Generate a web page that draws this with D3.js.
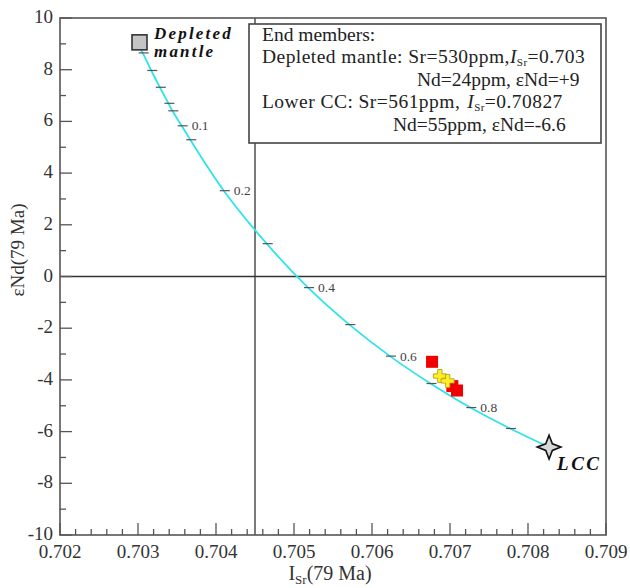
<!DOCTYPE html>
<html>
<head>
<meta charset="utf-8">
<script src="https://cdn.jsdelivr.net/npm/d3@7"></script>
<style>
  body { margin: 0; background: #fff; }
  svg text { font-family: "Liberation Serif", "Times New Roman", serif; }
</style>
</head>
<body>
<div id="chart"></div>
<script>
// axis ticks
const xTicks = [0.702, 0.703, 0.704, 0.705, 0.706, 0.707, 0.708, 0.709];
const yTicks = [-10, -8, -6, -4, -2, 0, 2, 4, 6, 8, 10];

// mixing curve DM -> LCC, read at the marked fractions
const mixF   = [0, 0.01, 0.03, 0.05, 0.07, 0.08, 0.1, 0.12, 0.2, 0.3, 0.4, 0.5, 0.6, 0.7, 0.8, 0.9, 1];
const mixIsr = [0.70300, 0.70306, 0.70317, 0.70328, 0.70339, 0.70344, 0.70356, 0.70367, 0.70410,
                0.70465, 0.70518, 0.70571, 0.70623, 0.70675, 0.70726, 0.70777, 0.70827];
const mixEnd = [9.0, 8.65, 7.97, 7.32, 6.70, 6.41, 5.83, 5.29, 3.32, 1.27, -0.43, -1.86, -3.08, -4.14, -5.07, -5.88, -6.6];
const markedF  = ["0.1", "0.2", "0.4", "0.6", "0.8"];

// samples
const sampleIsr = [0.70677, 0.70703, 0.70709];
const sampleEnd = [-3.30, -4.24, -4.41];
const crossIsr = [0.70687, 0.70697];
const crossEnd = [-3.85, -4.04];

// end members
const dmPoint = [0.703, 9];
const lccPoint = [0.70827, -6.6];

const refIsr = 0.7045, refEnd = 0;

const W = 630, H = 588;
const margin = { top: 18, right: 24, bottom: 53, left: 60 };

const svg = d3.select("#chart").append("svg")
    .attr("width", W)
    .attr("height", H);

const x = d3.scaleLinear().domain([0.702, 0.709]).range([margin.left, W - margin.right]);
const y = d3.scaleLinear().domain([-10, 10]).range([H - margin.bottom, margin.top]);

const frame = "#555";

// reference lines
svg.append("line")
    .attr("x1", x(refIsr)).attr("x2", x(refIsr))
    .attr("y1", y(10)).attr("y2", y(-10))
    .attr("stroke", "#333").attr("stroke-width", 1.3);
svg.append("line")
    .attr("x1", x(0.702)).attr("x2", x(0.709))
    .attr("y1", y(refEnd)).attr("y2", y(refEnd))
    .attr("stroke", "#333").attr("stroke-width", 1.3);

// frame
svg.append("rect")
    .attr("x", x(0.702)).attr("y", y(10))
    .attr("width", x(0.709) - x(0.702)).attr("height", y(-10) - y(10))
    .attr("fill", "none").attr("stroke", frame).attr("stroke-width", 1.6);

// x axis ticks (inward)
const xMinor = d3.range(0, 36).map(i => 0.702 + i * 0.0002);
svg.append("g").selectAll("line").data(xMinor).join("line")
    .attr("x1", d => x(d)).attr("x2", d => x(d))
    .attr("y1", y(-10)).attr("y2", (d, i) => y(-10) - (i % 5 === 0 ? 12 : 6))
    .attr("stroke", frame).attr("stroke-width", 1.3);
svg.append("g").selectAll("text").data(xTicks).join("text")
    .attr("x", d => x(d)).attr("y", y(-10) + 23)
    .attr("text-anchor", "middle")
    .attr("font-size", 19).attr("fill", "#333")
    .text(d => d3.format(".3f")(d));

// y axis ticks
const yMinor = d3.range(-10, 11, 1);
svg.append("g").selectAll("line").data(yMinor).join("line")
    .attr("x1", x(0.702)).attr("x2", (d) => x(0.702) + (d % 2 === 0 ? 12 : 6))
    .attr("y1", d => y(d)).attr("y2", d => y(d))
    .attr("stroke", frame).attr("stroke-width", 1.3);
svg.append("g").selectAll("text").data(yTicks).join("text")
    .attr("x", x(0.702) - 7).attr("y", d => y(d) + 5)
    .attr("text-anchor", "end")
    .attr("font-size", 19).attr("fill", "#333")
    .text(d => d);

// axis titles
const xt = svg.append("text")
    .attr("x", 330).attr("y", 580)
    .attr("text-anchor", "middle")
    .attr("font-size", 20).attr("fill", "#333");
xt.append("tspan").text("I");
xt.append("tspan").attr("font-size", 13).attr("dy", 4).text("Sr");
xt.append("tspan").attr("dy", -4).text("(79 Ma)");

svg.append("text")
    .attr("transform", "translate(24,250) rotate(-90)")
    .attr("text-anchor", "middle")
    .attr("font-size", 19).attr("fill", "#333")
    .text("εNd(79 Ma)");

// mixing curve
const pts = mixF.map((f, i) => [mixIsr[i], mixEnd[i], f]);
const line = d3.line()
    .x(d => x(d[0])).y(d => y(d[1]))
    .curve(d3.curveCatmullRom);
svg.append("path")
    .datum(pts)
    .attr("d", line)
    .attr("fill", "none")
    .attr("stroke", "#2fe3ea")
    .attr("stroke-width", 1.8);

// fraction marks
const marks = pts.filter(d => d[2] > 0 && d[2] < 1);
svg.append("g").selectAll("line").data(marks).join("line")
    .attr("x1", d => x(d[0]) - 4).attr("x2", d => x(d[0]) + 6)
    .attr("y1", d => y(d[1])).attr("y2", d => y(d[1]))
    .attr("stroke", "#555").attr("stroke-width", 1.2);
svg.append("g").selectAll("text").data(marks.filter(d => markedF.includes(String(d[2])))).join("text")
    .attr("x", d => x(d[0]) + 10).attr("y", d => y(d[1]) + 4.5)
    .attr("font-size", 13.5).attr("fill", "#444")
    .text(d => String(d[2]));

// depleted mantle end member
svg.append("rect")
    .attr("x", x(dmPoint[0]) - 6).attr("y", y(dmPoint[1]) - 9)
    .attr("width", 15).attr("height", 15)
    .attr("fill", "#c4c4c4").attr("stroke", "#333").attr("stroke-width", 1.6);
const dmLab = svg.append("text")
    .attr("font-family", "DejaVu Serif")
    .attr("font-weight", "bold").attr("font-style", "italic")
    .attr("font-size", 17).attr("letter-spacing", 2.2).attr("fill", "#111");
dmLab.append("tspan").attr("x", 154).attr("y", 39).text("Depleted");
dmLab.append("tspan").attr("x", 154).attr("y", 57).text("mantle");

// LCC end member (4-point star)
const star = d3.symbol().type({
    draw(ctx, size) {
        const r = Math.sqrt(size) / 2, q = r * 0.28;
        ctx.moveTo(0, -r);
        ctx.lineTo(q, -q); ctx.lineTo(r, 0); ctx.lineTo(q, q);
        ctx.lineTo(0, r); ctx.lineTo(-q, q); ctx.lineTo(-r, 0); ctx.lineTo(-q, -q);
        ctx.closePath();
    }
}).size(560);
svg.append("path")
    .attr("d", star)
    .attr("transform", `translate(${x(lccPoint[0])},${y(lccPoint[1])})`)
    .attr("fill", "#d8d8d8").attr("stroke", "#111").attr("stroke-width", 1.6);
svg.append("text")
    .attr("x", x(lccPoint[0]) + 8).attr("y", y(lccPoint[1]) + 23)
    .attr("font-family", "DejaVu Serif")
    .attr("font-weight", "bold").attr("font-style", "italic")
    .attr("font-size", 19).attr("letter-spacing", 2.5).attr("fill", "#111")
    .text("LCC");

// samples
svg.append("g").selectAll("rect").data(sampleIsr).join("rect")
    .attr("x", (d) => x(d) - 6).attr("y", (d, i) => y(sampleEnd[i]) - 6)
    .attr("width", 12).attr("height", 12)
    .attr("fill", "#f00000");
svg.append("g").selectAll("path").data(crossIsr).join("path")
    .attr("d", d3.symbol().type(d3.symbolCross).size(95))
    .attr("transform", (d, i) => `translate(${x(d)},${y(crossEnd[i])})`)
    .attr("fill", "#ffee22").attr("stroke", "#a89a20").attr("stroke-width", 0.8);

// end member box
svg.append("rect")
    .attr("x", 249).attr("y", 24).attr("width", 352).attr("height", 119)
    .attr("fill", "#fff").attr("stroke", "#444").attr("stroke-width", 1.6);
const box = svg.append("g").attr("font-size", 19.5).attr("fill", "#222");
box.append("text").attr("x", 262).attr("y", 41).text("End members:");
const l2 = box.append("text").attr("x", 262).attr("y", 63).attr("letter-spacing", 0.45);
l2.append("tspan").text("Depleted mantle: Sr=530ppm,");
l2.append("tspan").attr("font-style", "italic").text("I");
l2.append("tspan").attr("font-size", 11).attr("dy", 3).text("Sr");
l2.append("tspan").attr("dy", -3).text("=0.703");
box.append("text").attr("x", 417).attr("y", 86)
    .text("Nd=24ppm, εNd=+9");
const l4 = box.append("text").attr("x", 262).attr("y", 108).attr("letter-spacing", 0.45);
l4.append("tspan").text("Lower CC: Sr=561ppm,");
l4.append("tspan").attr("dx", 7).attr("font-style", "italic").text("I");
l4.append("tspan").attr("font-size", 11).attr("dy", 3).text("Sr");
l4.append("tspan").attr("dy", -3).text("=0.70827");
box.append("text").attr("x", 393).attr("y", 131)
    .text("Nd=55ppm, εNd=-6.6");
</script>
</body>
</html>
